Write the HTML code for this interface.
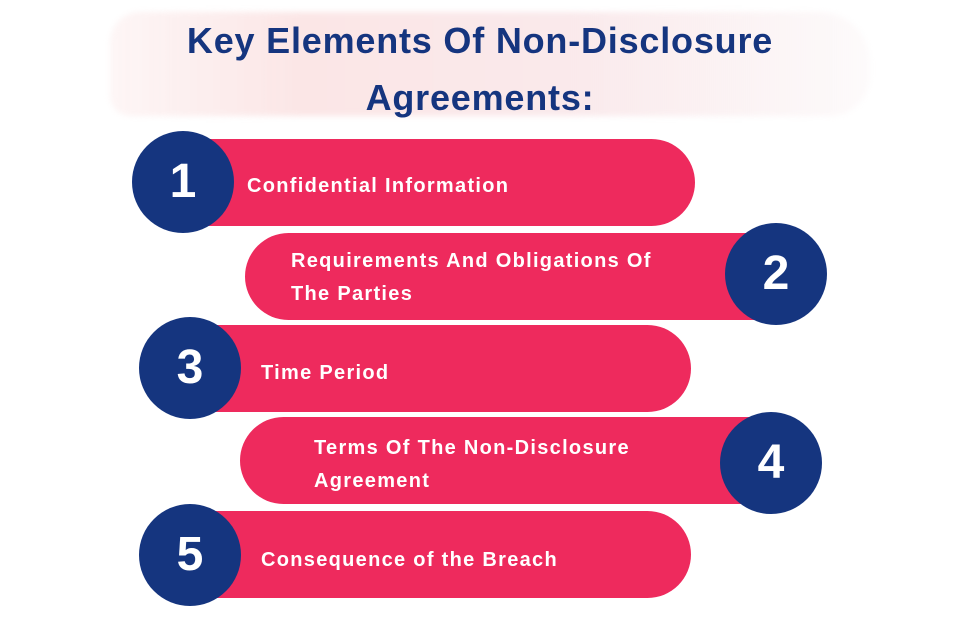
<!DOCTYPE html>
<html><head><style>
body{margin:0;width:960px;height:636px;background:#fff;position:relative;overflow:hidden;font-family:"Liberation Sans",sans-serif;}
.brush{position:absolute;left:110px;top:12px;width:760px;height:104px;background:linear-gradient(90deg,rgba(250,225,225,0.3),#fbe6e6 25%,#fae9eb 60%,rgba(250,244,245,0.4));border-radius:30px 50px 40px 20px;filter:blur(3px);}
.t{position:absolute;left:0;width:960px;text-align:center;color:#15357f;font-weight:bold;font-size:36px;letter-spacing:0.8px}
.bar{position:absolute;background:#ee2a5d;height:87px;}
.c{position:absolute;width:102px;height:102px;border-radius:50%;background:#15357f;color:#fff;font-weight:bold;font-size:48px;text-align:center;line-height:102px}
.lb{position:absolute;color:#fff;font-weight:bold;font-size:20px;letter-spacing:1.3px;line-height:33px;white-space:nowrap}
</style></head><body>
<div class="brush"></div>
<div class="t" style="top:20px">Key Elements Of Non-Disclosure</div>
<div class="t" style="top:77px">Agreements:</div>

<div class="bar" style="left:183px;top:139px;width:512px;border-radius:0 44px 44px 0"></div>
<div class="bar" style="left:245px;top:233px;width:525px;border-radius:44px 0 0 44px"></div>
<div class="bar" style="left:190px;top:325px;width:501px;border-radius:0 44px 44px 0"></div>
<div class="bar" style="left:240px;top:417px;width:525px;border-radius:44px 0 0 44px"></div>
<div class="bar" style="left:190px;top:511px;width:501px;border-radius:0 44px 44px 0"></div>

<div class="c" style="left:132px;top:131px">1</div>
<div class="c" style="left:725px;top:223px">2</div>
<div class="c" style="left:139px;top:317px">3</div>
<div class="c" style="left:720px;top:412px">4</div>
<div class="c" style="left:139px;top:504px">5</div>

<div class="lb" style="left:247px;top:170px">Confidential Information</div>
<div class="lb" style="left:291px;top:245px">Requirements And Obligations Of<br>The Parties</div>
<div class="lb" style="left:261px;top:357px">Time Period</div>
<div class="lb" style="left:314px;top:432px">Terms Of The Non-Disclosure<br>Agreement</div>
<div class="lb" style="left:261px;top:544px">Consequence of the Breach</div>
</body></html>
